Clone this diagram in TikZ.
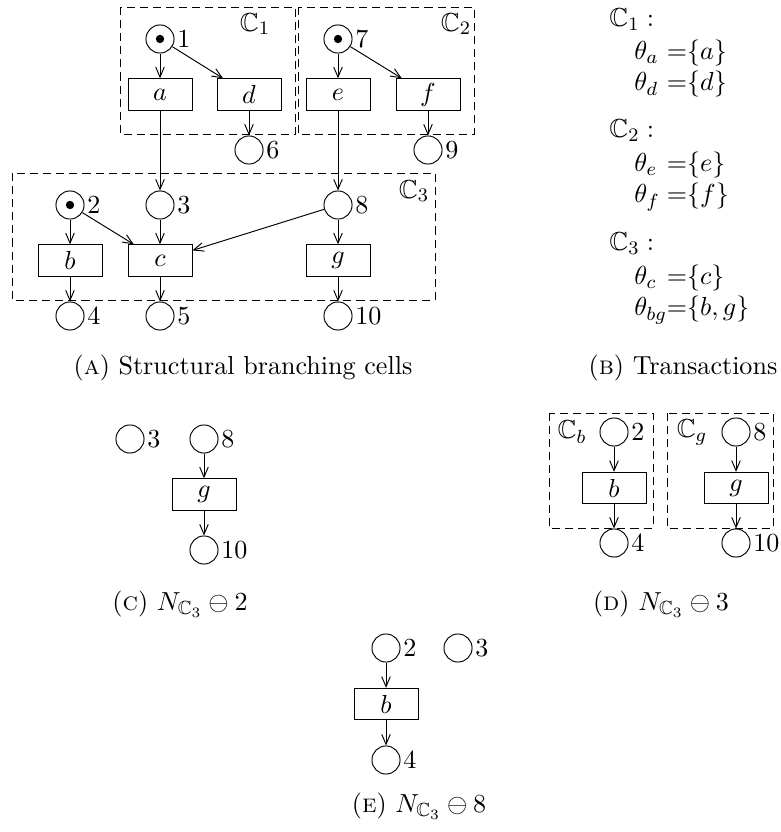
\documentclass[11pt,tikz,border=0pt]{standalone}
\usepackage{amssymb}
\usetikzlibrary{arrows.meta}
\begin{document}
\begin{tikzpicture}[x=0.42pt,y=-0.42pt,
  place/.style={circle,draw,minimum size=11.8pt,inner sep=0pt},
  trans/.style={rectangle,draw,minimum width=26.9pt,minimum height=13.2pt,inner sep=0pt},
  tok/.style={circle,fill,minimum size=3.5pt,inner sep=0pt},
  cell/.style={draw,dash pattern=on 3.4pt off 2.1pt},
  arc/.style={-{Straight Barb[length=4.2pt,width=3.6pt]}},
  plab/.style={inner sep=1pt},
  captext/.style={inner sep=0pt},
  trline/.style={anchor=base west,inner sep=0pt}]
\useasboundingbox (0,0) rectangle (781,832);
% ---------- (A) ----------
\draw[cell] (120,7) rectangle (295,134);
\draw[cell] (298,7) rectangle (474,134);
\draw[cell] (12,173) rectangle (435,300);
\node (l1) at (255,24) {$\mathbb{C}_1$};
\node (l2) at (456,24) {$\mathbb{C}_2$};
\node (l3) at (414,191) {$\mathbb{C}_3$};
\node[place,label={[plab]right:1}] (p1) at (160,39) {};
\node[tok] at (p1) {};
\node[place,label={[plab]right:7}] (p7) at (338,39) {};
\node[tok] at (p7) {};
\node[trans] (ta) at (160,94.5) {$a$};
\node[trans] (td) at (249,94.5) {$d$};
\node[trans] (te) at (338,94.5) {$e$};
\node[trans] (tf) at (428,94.5) {$f$};
\node[place,label={[plab]right:6}] (p6) at (249,150) {};
\node[place,label={[plab]right:9}] (p9) at (428,150) {};
\node[place,label={[plab]right:2}] (p2) at (70,205) {};
\node[tok] at (p2) {};
\node[place,label={[plab]right:3}] (p3) at (160,205) {};
\node[place,label={[plab]right:8}] (p8) at (338,205) {};
\node[trans] (tb) at (70,260.5) {$b$};
\node[trans] (tc) at (160,260.5) {$c$};
\node[trans] (tg) at (338,260.5) {$g$};
\node[place,label={[plab]right:4}] (p4) at (70,316) {};
\node[place,label={[plab]right:5}] (p5) at (160,316) {};
\node[place,label={[plab]right:10}] (p10) at (338,316) {};
\draw[arc] (p1) -- (ta);
\draw[arc] (p1) -- (td);
\draw[arc] (p7) -- (te);
\draw[arc] (p7) -- (tf);
\draw[arc] (td) -- (p6);
\draw[arc] (tf) -- (p9);
\draw[arc] (ta) -- (p3);
\draw[arc] (te) -- (p8);
\draw[arc] (p2) -- (tb);
\draw[arc] (p2) -- (tc);
\draw[arc] (p3) -- (tc);
\draw[arc] (p8) -- (tc);
\draw[arc] (p8) -- (tg);
\draw[arc] (tb) -- (p4);
\draw[arc] (tc) -- (p5);
\draw[arc] (tg) -- (p10);
\node[captext] (capA) at (243,368) {(\textsc{a}) Structural branching cells};
% ---------- (B) ----------
\node[trline] (b1) at (609,27) {$\mathbb{C}_1:$};
\node[trline] (b2) at (634,60) {\rlap{$\theta_a$}\phantom{$\theta_{bg}$}${=}\{a\}$};
\node[trline] (b3) at (634,91) {\rlap{$\theta_d$}\phantom{$\theta_{bg}$}${=}\{d\}$};
\node[trline] (b4) at (609,138) {$\mathbb{C}_2:$};
\node[trline] (b5) at (634,172) {\rlap{$\theta_e$}\phantom{$\theta_{bg}$}${=}\{e\}$};
\node[trline] (b6) at (634,203) {\rlap{$\theta_f$}\phantom{$\theta_{bg}$}${=}\{f\}$};
\node[trline] (b7) at (609,251) {$\mathbb{C}_3:$};
\node[trline] (b8) at (634,285) {\rlap{$\theta_c$}\phantom{$\theta_{bg}$}${=}\{c\}$};
\node[trline] (b9) at (634,316) {\rlap{$\theta_{bg}$}\phantom{$\theta_{bg}$}${=}\{b,g\}$};
\node[captext] (capB) at (683,368) {(\textsc{b}) Transactions};
% ---------- (C) ----------
\node[place,label={[plab]right:3}] (c3) at (130,439) {};
\node[place,label={[plab]right:8}] (c8) at (204,439) {};
\node[trans] (cg) at (204,494.5) {$g$};
\node[place,label={[plab]right:10}] (c10) at (204,550) {};
\draw[arc] (c8) -- (cg);
\draw[arc] (cg) -- (c10);
\node[captext] (capC) at (180,604) {(\textsc{c}) $N_{\mathbb{C}_3}\ominus 2$};
% ---------- (D) ----------
\draw[cell] (549,413) rectangle (653,528);
\draw[cell] (667,413) rectangle (773,528);
\node (lb) at (572,432) {$\mathbb{C}_b$};
\node (lg) at (692,432) {$\mathbb{C}_g$};
\node[place,label={[plab]right:2}] (d2) at (614,432) {};
\node[trans] (db) at (614,488) {$b$};
\node[place,label={[plab]right:4}] (d4) at (614,543) {};
\node[place,label={[plab]right:8}] (d8) at (736,432) {};
\node[trans] (dg) at (736,488) {$g$};
\node[place,label={[plab]right:10}] (d10) at (736,543) {};
\draw[arc] (d2) -- (db);
\draw[arc] (db) -- (d4);
\draw[arc] (d8) -- (dg);
\draw[arc] (dg) -- (d10);
\node[captext] (capD) at (661,604) {(\textsc{d}) $N_{\mathbb{C}_3}\ominus 3$};
% ---------- (E) ----------
\node[place,label={[plab]right:2}] (e2) at (386,648) {};
\node[place,label={[plab]right:3}] (e3) at (458,648) {};
\node[trans] (eb) at (386,704) {$b$};
\node[place,label={[plab]right:4}] (e4) at (386,760) {};
\draw[arc] (e2) -- (eb);
\draw[arc] (eb) -- (e4);
\node[captext] (capE) at (419,806) {(\textsc{e}) $N_{\mathbb{C}_3}\ominus 8$};
\end{tikzpicture}
\end{document}
